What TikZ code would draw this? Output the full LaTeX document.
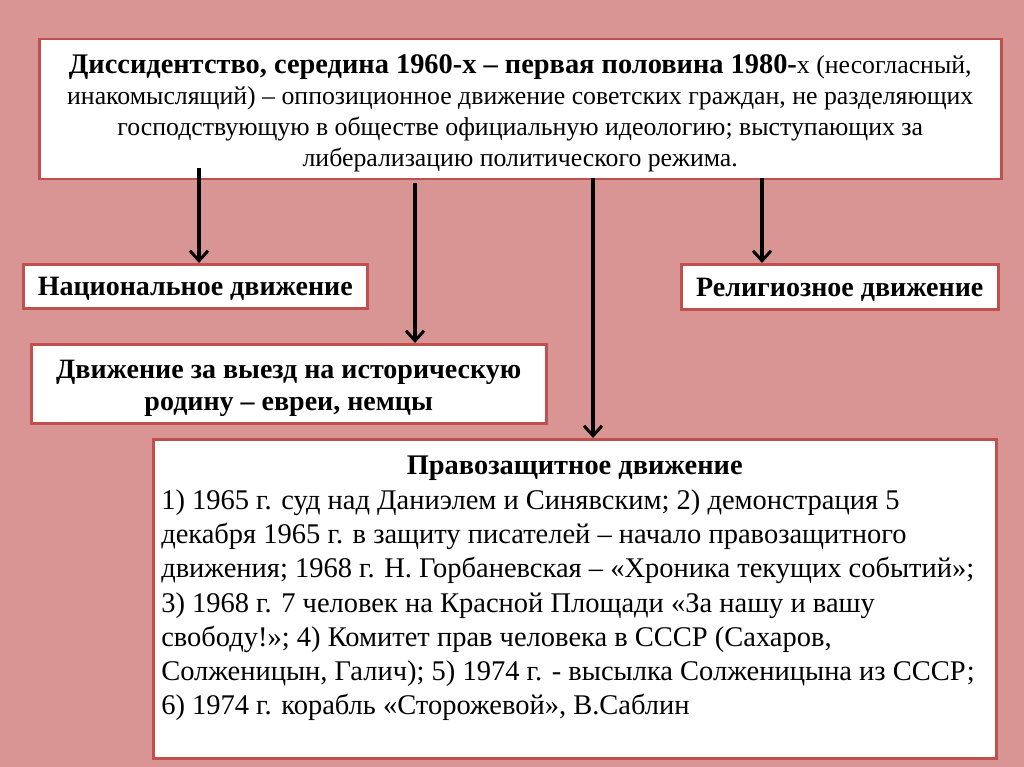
\documentclass[tikz,border=0pt]{standalone}
\usepackage{fontspec}
\setmainfont{Liberation Serif}
\usetikzlibrary{arrows.meta}
\definecolor{slidebg}{RGB}{217,149,148}
\definecolor{boxline}{RGB}{192,80,77}
\begin{document}
\begin{tikzpicture}[x=1pt,y=-1pt,
		box/.style={draw=boxline,line width=2.5pt,fill=white,inner sep=0pt,anchor=north west},
		arr/.style={-{Straight Barb[length=10pt,width=18pt,line width=3pt]},line width=3.5pt}]
		\fill[slidebg] (0,0) rectangle (1024,767);
		% boxes
		\node[box,minimum width=962pt,minimum height=140pt,align=center,
			font=\fontsize{25.8}{31.3}\selectfont] (top) at (38,38)
			{\rule{0pt}{27pt}{\fontsize{28.4}{31.3}\selectfont\bfseries Диссидентство, середина 1960-х – первая половина 1980-}х (несогласный,\\
			инакомыслящий) – оппозиционное движение советских граждан, не разделяющих\\
			господствующую в обществе официальную идеологию; выступающих за\\
			либерализацию политического режима.};
		\node[box,minimum width=344pt,minimum height=44pt,text height=19pt,text depth=0pt,
			font=\fontsize{28}{32}\selectfont\bfseries] (nat) at (22,263)
			{Национальное движение};
		\node[box,minimum width=317pt,minimum height=45pt,text height=19pt,text depth=0pt,
			font=\fontsize{28}{32}\selectfont\bfseries] (rel) at (680,263)
			{Религиозное движение};
		\node[box,minimum width=515pt,minimum height=79pt,align=center,
			font=\fontsize{28}{32}\selectfont\bfseries] (emig) at (30,343)
			{\rule{0pt}{27pt}Движение за выезд на историческую\\
			родину – евреи, немцы};
		\node[box,minimum width=843pt,minimum height=319pt] (rights) at (152,438) {};
		\node[anchor=north,align=left,inner sep=0pt,font=\fontsize{28.5}{34.3}\selectfont] (rtext) at ([yshift=-18pt]rights.north)
			{\makebox[827pt]{\fontsize{28.4}{34.3}\selectfont\bfseries Правозащитное движение}\\
			1) 1965 г. суд над Даниэлем и Синявским; 2) демонстрация 5\\
			декабря 1965 г. в защиту писателей – начало правозащитного\\
			движения; 1968 г. Н. Горбаневская – «Хроника текущих событий»;\\
			3) 1968 г. 7 человек на Красной Площади «За нашу и вашу\\
			свободу!»; 4) Комитет прав человека в СССР (Сахаров,\\
			Солженицын, Галич); 5) 1974 г. - высылка Солженицына из СССР;\\
			6) 1974 г. корабль «Сторожевой», В.Саблин};
		% arrows
		\coordinate (a1) at (199,0);
		\coordinate (a2) at (415,0);
		\coordinate (a3) at (593,0);
		\coordinate (a4) at (762,0);
		\draw[arr] ([yshift=12pt]top.south -| a1) -- (nat.north -| a1);
		\draw[arr] ([yshift=-3pt]top.south -| a2) -- (emig.north -| a2);
		\draw[arr] ([yshift=2pt]top.south -| a3) -- (rights.north -| a3);
		\draw[arr] ([yshift=2pt]top.south -| a4) -- (rel.north -| a4);
	\end{tikzpicture}
\end{document}
